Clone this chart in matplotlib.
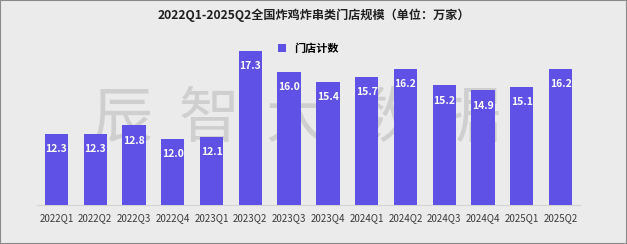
import matplotlib
matplotlib.use("Agg")
import matplotlib.pyplot as plt
from matplotlib.patches import Rectangle

plt.rcParams['font.family'] = ['Noto Sans CJK SC', 'DejaVu Sans']

quarters = ['2022Q1', '2022Q2', '2022Q3', '2022Q4', '2023Q1', '2023Q2', '2023Q3',
            '2023Q4', '2024Q1', '2024Q2', '2024Q3', '2024Q4', '2025Q1', '2025Q2']
stores = [12.3, 12.3, 12.8, 12.0, 12.1, 17.3, 16.0, 15.4, 15.7, 16.2, 15.2, 14.9, 15.1, 16.2]

bg = '#ebebeb'
bar_color = '#5f50e6'

fig = plt.figure(figsize=(6.27, 2.44), dpi=100, facecolor=bg)
ax = fig.add_axes([0.059, 0.16, 0.866, 0.656])
ax.set_facecolor(bg)

bars = ax.bar(range(len(quarters)), stores, width=0.6, color=bar_color,
              label='门店计数', zorder=3)
for rect, v in zip(bars, stores):
    ax.annotate(f'{v:.1f}', (rect.get_x() + rect.get_width() / 2, v),
                xytext=(0, -11), textcoords='offset points', ha='center', va='center',
                color='white', fontsize=7.5, fontweight='bold', zorder=4)

ax.set_xlim(-0.5, len(quarters) - 0.5)
ax.set_ylim(8, 17.64)
ax.set_xticks(range(len(quarters)))
ax.set_xticklabels(quarters, fontsize=7, color='#3a3a3a', fontweight='medium')
ax.tick_params(axis='x', length=0, pad=6)
ax.set_yticks([])
for s in ['top', 'right', 'left']:
    ax.spines[s].set_visible(False)
ax.spines['bottom'].set_color('#d4d4d4')

# watermark, behind the bars
for i, ch in enumerate('辰智大数据'):
    ax.text((122 + 87 * i) / 627, 1 - 120 / 244, ch, transform=fig.transFigure,
            fontsize=44, color='#cfcfcf', fontweight='light',
            ha='center', va='center', zorder=1, clip_on=False)

fig.text(0.5, 1 - 15 / 244, '2022Q1-2025Q2全国炸鸡炸串类门店规模（单位：万家）',
         ha='center', va='center', fontsize=8.7, fontweight='bold', color='#202020')
ax.legend(loc='center', bbox_to_anchor=(0.5, (1 - 48 / 244 - 0.16) / 0.656),
          frameon=False, handlelength=0.7, handleheight=0.7,
          prop={'weight': 'bold', 'size': 8})

fig.patches.append(Rectangle((0, 0), 1, 1, transform=fig.transFigure, fill=False,
                             edgecolor='#8a8a8a', linewidth=1.5))

fig.savefig('out.png', dpi=100, facecolor=bg)
